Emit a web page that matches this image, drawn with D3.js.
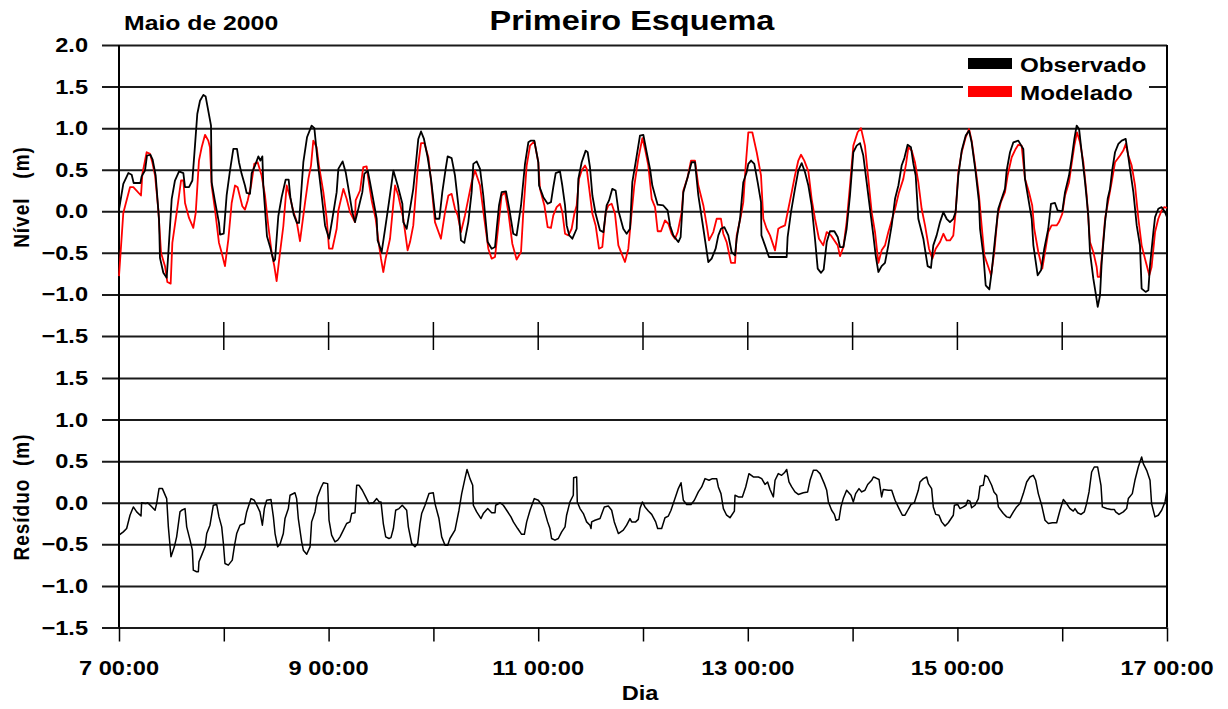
<!DOCTYPE html>
<html>
<head>
<meta charset="utf-8">
<script src="https://cdn.jsdelivr.net/npm/d3@7"></script>
<style>
  body { margin: 0; background: #fff; }
  text { font-family: "Liberation Sans", Arial, sans-serif; font-weight: bold; fill: #000; white-space: pre; }
</style>
</head>
<body>
<svg width="1228" height="709"></svg>
<script>
// ---------------------------------------------------------------
// data (day of May 2000, metres)
// ---------------------------------------------------------------
var observado = [
  [7.000,0.02],[7.041,0.33],[7.089,0.46],[7.121,0.44],[7.140,0.34],[7.204,0.34],[7.216,0.42],[7.248,0.49],
  [7.267,0.67],[7.299,0.68],[7.321,0.62],[7.350,0.43],[7.382,-0.10],[7.391,-0.56],[7.423,-0.74],[7.455,-0.80],
  [7.471,-0.50],[7.503,0.15],[7.534,0.37],[7.573,0.48],[7.614,0.46],[7.630,0.29],[7.668,0.29],[7.700,0.37],
  [7.725,0.79],[7.747,1.17],[7.773,1.33],[7.805,1.40],[7.827,1.38],[7.878,1.03],[7.884,0.35],[7.916,0.12],
  [7.954,-0.14],[7.964,-0.28],[7.999,-0.27],[8.027,0.19],[8.059,0.49],[8.091,0.75],[8.126,0.75],[8.145,0.59],
  [8.170,0.45],[8.202,0.31],[8.218,0.22],[8.250,0.21],[8.266,0.46],[8.298,0.55],[8.330,0.66],[8.349,0.61],
  [8.368,0.66],[8.377,0.31],[8.412,-0.30],[8.444,-0.44],[8.476,-0.60],[8.489,-0.58],[8.520,-0.06],[8.552,0.17],
  [8.590,0.38],[8.619,0.38],[8.635,0.17],[8.667,-0.04],[8.698,-0.14],[8.718,-0.14],[8.759,0.59],[8.794,0.89],
  [8.838,1.03],[8.864,1.00],[8.896,0.59],[8.934,0.19],[8.966,-0.17],[9.004,-0.33],[9.036,-0.09],[9.077,0.23],
  [9.093,0.51],[9.134,0.60],[9.163,0.47],[9.195,0.23],[9.226,-0.01],[9.252,-0.13],[9.284,0.03],[9.322,0.23],
  [9.341,0.45],[9.373,0.49],[9.395,0.35],[9.427,0.13],[9.459,-0.09],[9.468,-0.35],[9.506,-0.49],[9.544,-0.17],
  [9.576,0.11],[9.618,0.49],[9.659,0.31],[9.704,0.09],[9.713,-0.13],[9.745,-0.21],[9.777,0.03],[9.808,0.27],
  [9.831,0.55],[9.856,0.87],[9.882,0.96],[9.910,0.87],[9.945,0.65],[9.977,0.39],[10.021,-0.09],[10.057,-0.09],
  [10.085,0.23],[10.117,0.51],[10.136,0.66],[10.174,0.64],[10.206,0.43],[10.238,0.07],[10.263,-0.35],[10.295,-0.38],
  [10.333,-0.13],[10.365,0.23],[10.381,0.57],[10.413,0.60],[10.445,0.51],[10.476,0.19],[10.518,-0.37],[10.556,-0.45],
  [10.588,-0.43],[10.604,-0.21],[10.626,0.07],[10.651,0.23],[10.693,0.24],[10.724,0.03],[10.762,-0.27],[10.794,-0.29],
  [10.836,0.07],[10.874,0.57],[10.906,0.83],[10.931,0.85],[10.963,0.85],[11.001,0.59],[11.008,0.31],[11.049,0.17],
  [11.090,0.09],[11.122,0.11],[11.144,0.29],[11.167,0.46],[11.208,0.48],[11.230,0.31],[11.256,0.07],[11.272,-0.17],
  [11.297,-0.29],[11.326,-0.33],[11.367,-0.21],[11.383,0.39],[11.415,0.59],[11.453,0.73],[11.472,0.71],[11.494,0.53],
  [11.517,0.19],[11.548,-0.03],[11.590,-0.23],[11.622,-0.25],[11.653,0.07],[11.676,0.13],[11.707,0.27],[11.739,0.25],
  [11.765,0.01],[11.812,-0.21],[11.844,-0.27],[11.876,-0.21],[11.898,0.35],[11.930,0.59],[11.971,0.91],[12.003,0.92],
  [12.035,0.71],[12.067,0.51],[12.089,0.31],[12.115,0.19],[12.140,0.08],[12.194,0.07],[12.235,0.01],[12.258,-0.17],
  [12.289,-0.29],[12.337,-0.37],[12.359,-0.31],[12.385,0.23],[12.426,0.41],[12.464,0.59],[12.496,0.59],[12.528,0.19],
  [12.576,-0.21],[12.623,-0.61],[12.655,-0.57],[12.693,-0.45],[12.719,-0.29],[12.744,-0.21],[12.776,-0.19],[12.814,-0.29],
  [12.846,-0.49],[12.878,-0.53],[12.894,-0.33],[12.926,-0.09],[12.957,0.35],[12.989,0.47],[13.005,0.57],[13.031,0.61],
  [13.062,0.57],[13.094,0.35],[13.126,0.11],[13.130,-0.29],[13.164,-0.41],[13.202,-0.55],[13.291,-0.55],[13.371,-0.55],
  [13.380,-0.31],[13.412,-0.01],[13.450,0.27],[13.482,0.49],[13.514,0.58],[13.546,0.47],[13.578,0.31],[13.609,0.07],
  [13.641,-0.33],[13.667,-0.69],[13.699,-0.74],[13.724,-0.70],[13.753,-0.37],[13.784,-0.24],[13.826,-0.24],[13.858,-0.31],
  [13.880,-0.43],[13.912,-0.43],[13.943,-0.21],[13.975,0.19],[14.007,0.71],[14.039,0.79],[14.071,0.82],[14.102,0.67],
  [14.134,0.35],[14.166,0.03],[14.198,-0.29],[14.220,-0.53],[14.246,-0.73],[14.277,-0.66],[14.309,-0.62],[14.341,-0.41],
  [14.373,-0.17],[14.405,0.15],[14.437,0.31],[14.468,0.55],[14.494,0.64],[14.525,0.80],[14.557,0.77],[14.580,0.57],
  [14.602,0.43],[14.627,-0.09],[14.675,-0.33],[14.716,-0.66],[14.748,-0.68],[14.770,-0.41],[14.802,-0.29],[14.834,-0.13],
  [14.866,-0.01],[14.897,-0.09],[14.929,-0.13],[14.961,-0.09],[14.983,-0.01],[15.009,0.43],[15.041,0.73],[15.079,0.91],
  [15.111,0.97],[15.136,0.83],[15.174,0.47],[15.206,0.11],[15.216,-0.21],[15.248,-0.53],[15.270,-0.89],[15.305,-0.94],
  [15.327,-0.73],[15.359,-0.33],[15.390,0.03],[15.422,0.15],[15.454,0.27],[15.470,0.49],[15.502,0.71],[15.534,0.83],
  [15.581,0.85],[15.629,0.75],[15.645,0.39],[15.677,0.15],[15.709,-0.09],[15.725,-0.41],[15.766,-0.77],[15.798,-0.71],
  [15.829,-0.45],[15.867,-0.21],[15.893,0.09],[15.931,0.10],[15.956,0.01],[16.001,0.00],[16.027,0.23],[16.065,0.43],
  [16.090,0.63],[16.116,0.87],[16.138,1.03],[16.161,0.99],[16.186,0.71],[16.218,0.35],[16.249,-0.05],[16.265,-0.49],
  [16.297,-0.81],[16.320,-0.99],[16.339,-1.15],[16.361,-1.01],[16.377,-0.61],[16.409,-0.13],[16.434,0.15],[16.456,0.27],
  [16.479,0.51],[16.504,0.71],[16.536,0.81],[16.568,0.85],[16.606,0.87],[16.625,0.71],[16.647,0.51],[16.679,0.23],
  [16.711,-0.17],[16.742,-0.41],[16.758,-0.93],[16.796,-0.97],[16.822,-0.95],[16.838,-0.65],[16.870,-0.25],[16.886,-0.07],
  [16.917,0.03],[16.949,0.05],[16.981,-0.01],[17.000,-0.07]
];

var modelado = [
  [7.000,-0.78],[7.041,-0.02],[7.105,0.29],[7.137,0.29],[7.210,0.19],[7.223,0.45],[7.264,0.71],[7.296,0.69],
  [7.318,0.59],[7.344,0.43],[7.375,0.02],[7.401,-0.50],[7.439,-0.66],[7.461,-0.85],[7.493,-0.87],[7.509,-0.38],
  [7.550,-0.02],[7.592,0.37],[7.614,0.37],[7.630,0.10],[7.668,-0.08],[7.709,-0.20],[7.732,-0.02],[7.763,0.61],
  [7.789,0.77],[7.821,0.92],[7.852,0.85],[7.868,0.77],[7.884,0.31],[7.916,0.02],[7.954,-0.38],[7.980,-0.50],
  [8.011,-0.66],[8.043,-0.34],[8.075,0.10],[8.107,0.31],[8.132,0.29],[8.155,0.17],[8.177,0.06],[8.202,0.02],
  [8.228,0.13],[8.260,0.31],[8.291,0.57],[8.323,0.59],[8.361,0.43],[8.393,0.19],[8.425,-0.18],[8.457,-0.50],
  [8.482,-0.66],[8.504,-0.84],[8.536,-0.50],[8.568,-0.18],[8.600,0.31],[8.632,0.17],[8.663,0.00],[8.695,-0.12],
  [8.727,-0.36],[8.775,0.10],[8.807,0.39],[8.832,0.55],[8.854,0.85],[8.886,0.77],[8.908,0.55],[8.950,0.23],
  [8.982,-0.09],[9.004,-0.45],[9.036,-0.45],[9.077,-0.21],[9.093,0.01],[9.141,0.27],[9.172,0.15],[9.204,-0.01],
  [9.252,-0.13],[9.258,0.13],[9.300,0.25],[9.331,0.53],[9.363,0.54],[9.379,0.39],[9.411,0.13],[9.449,-0.09],
  [9.475,-0.35],[9.500,-0.57],[9.522,-0.73],[9.544,-0.57],[9.586,-0.33],[9.634,0.31],[9.665,0.19],[9.713,-0.09],
  [9.754,-0.47],[9.777,-0.37],[9.808,-0.17],[9.850,0.51],[9.882,0.82],[9.913,0.82],[9.952,0.65],[9.977,0.37],
  [10.015,-0.13],[10.072,-0.33],[10.111,-0.01],[10.143,0.19],[10.174,0.21],[10.206,0.03],[10.232,-0.05],[10.263,-0.25],
  [10.301,-0.05],[10.333,0.15],[10.365,0.35],[10.397,0.49],[10.445,0.31],[10.486,-0.09],[10.524,-0.45],[10.556,-0.57],
  [10.588,-0.55],[10.620,-0.17],[10.651,0.19],[10.683,0.23],[10.715,-0.01],[10.753,-0.39],[10.794,-0.58],[10.836,-0.49],
  [10.858,-0.01],[10.890,0.55],[10.922,0.79],[10.963,0.84],[11.001,0.59],[11.017,0.27],[11.059,0.07],[11.090,-0.19],
  [11.122,-0.20],[11.144,-0.05],[11.176,0.05],[11.208,0.09],[11.230,-0.01],[11.256,-0.27],[11.288,-0.29],[11.319,-0.21],
  [11.345,-0.03],[11.367,0.07],[11.389,0.39],[11.415,0.49],[11.447,0.55],[11.463,0.51],[11.485,0.29],[11.517,-0.03],
  [11.548,-0.17],[11.580,-0.45],[11.612,-0.43],[11.644,-0.01],[11.669,0.07],[11.701,0.09],[11.733,-0.03],[11.765,-0.41],
  [11.796,-0.51],[11.828,-0.61],[11.860,-0.45],[11.886,-0.09],[11.917,0.31],[11.955,0.63],[11.994,0.88],[12.019,0.75],
  [12.051,0.55],[12.083,0.15],[12.115,0.05],[12.140,-0.24],[12.172,-0.24],[12.210,-0.11],[12.242,-0.15],[12.273,-0.27],
  [12.305,-0.33],[12.331,-0.25],[12.369,-0.01],[12.385,0.25],[12.426,0.41],[12.458,0.61],[12.496,0.61],[12.528,0.31],
  [12.576,0.07],[12.608,-0.17],[12.630,-0.35],[12.671,-0.25],[12.703,-0.09],[12.744,-0.09],[12.766,-0.27],[12.798,-0.37],
  [12.840,-0.62],[12.878,-0.62],[12.894,-0.29],[12.935,-0.05],[12.957,0.11],[12.980,0.55],[13.005,0.95],[13.043,0.95],
  [13.085,0.71],[13.126,0.43],[13.148,-0.09],[13.180,-0.21],[13.212,-0.29],[13.260,-0.47],[13.291,-0.21],[13.317,-0.19],
  [13.355,-0.17],[13.387,0.03],[13.419,0.23],[13.450,0.43],[13.482,0.61],[13.508,0.68],[13.539,0.61],[13.578,0.48],
  [13.609,0.15],[13.641,-0.09],[13.679,-0.33],[13.720,-0.41],[13.753,-0.25],[13.794,-0.29],[13.826,-0.35],[13.858,-0.41],
  [13.880,-0.54],[13.912,-0.43],[13.943,-0.13],[13.975,0.31],[14.007,0.79],[14.048,0.95],[14.080,1.00],[14.118,0.79],
  [14.150,0.39],[14.182,-0.01],[14.214,-0.25],[14.246,-0.62],[14.277,-0.47],[14.309,-0.41],[14.341,-0.25],[14.373,-0.11],
  [14.405,0.03],[14.443,0.23],[14.484,0.39],[14.510,0.57],[14.532,0.77],[14.564,0.73],[14.595,0.59],[14.627,0.35],
  [14.659,0.03],[14.691,-0.17],[14.729,-0.45],[14.761,-0.57],[14.793,-0.45],[14.834,-0.37],[14.866,-0.27],[14.897,-0.35],
  [14.929,-0.35],[14.961,-0.29],[14.983,-0.01],[15.009,0.47],[15.041,0.71],[15.079,0.89],[15.111,0.99],[15.136,0.85],
  [15.174,0.51],[15.206,0.19],[15.231,-0.17],[15.257,-0.53],[15.295,-0.67],[15.321,-0.77],[15.352,-0.49],[15.384,-0.05],
  [15.415,0.11],[15.454,0.23],[15.479,0.43],[15.518,0.65],[15.556,0.75],[15.581,0.80],[15.613,0.79],[15.645,0.39],
  [15.683,0.23],[15.714,0.07],[15.733,-0.21],[15.772,-0.49],[15.810,-0.69],[15.836,-0.49],[15.867,-0.25],[15.899,-0.17],
  [15.947,-0.17],[15.969,-0.13],[16.001,-0.03],[16.027,0.19],[16.065,0.35],[16.090,0.57],[16.116,0.79],[16.141,0.95],
  [16.170,0.83],[16.202,0.59],[16.234,0.19],[16.265,-0.37],[16.297,-0.49],[16.329,-0.67],[16.339,-0.79],[16.361,-0.79],
  [16.377,-0.57],[16.409,-0.09],[16.440,0.13],[16.472,0.35],[16.504,0.59],[16.552,0.67],[16.583,0.73],[16.606,0.81],
  [16.631,0.67],[16.663,0.55],[16.695,0.31],[16.727,-0.09],[16.758,-0.41],[16.790,-0.57],[16.831,-0.77],[16.853,-0.67],
  [16.886,-0.25],[16.917,-0.09],[16.949,0.01],[16.974,0.05],[17.000,0.04]
];

var residuo = [
  [7.000,-0.39],[7.041,-0.35],[7.073,-0.31],[7.105,-0.15],[7.137,-0.05],[7.169,-0.11],[7.210,-0.16],[7.216,0.00],
  [7.254,-0.01],[7.274,0.00],[7.305,-0.04],[7.344,-0.09],[7.359,-0.01],[7.382,0.17],[7.414,0.17],[7.455,0.05],
  [7.471,-0.29],[7.496,-0.65],[7.528,-0.53],[7.550,-0.41],[7.582,-0.11],[7.598,-0.09],[7.630,-0.07],[7.646,-0.29],
  [7.678,-0.45],[7.700,-0.57],[7.709,-0.81],[7.741,-0.83],[7.757,-0.83],[7.763,-0.71],[7.789,-0.63],[7.821,-0.53],
  [7.837,-0.37],[7.868,-0.27],[7.900,-0.03],[7.932,-0.02],[7.954,-0.17],[7.980,-0.29],[7.996,-0.49],[8.011,-0.73],
  [8.043,-0.75],[8.081,-0.69],[8.100,-0.53],[8.123,-0.37],[8.155,-0.27],[8.196,-0.25],[8.218,-0.11],[8.260,0.05],
  [8.291,0.03],[8.323,-0.05],[8.345,-0.11],[8.368,-0.27],[8.387,-0.07],[8.409,0.03],[8.450,0.04],[8.473,-0.17],
  [8.489,-0.37],[8.514,-0.53],[8.536,-0.50],[8.568,-0.37],[8.584,-0.19],[8.616,-0.07],[8.632,0.09],[8.679,0.12],
  [8.695,0.05],[8.711,-0.19],[8.743,-0.47],[8.759,-0.57],[8.791,-0.62],[8.823,-0.53],[8.838,-0.23],[8.870,-0.11],
  [8.893,0.07],[8.927,0.18],[8.950,0.24],[8.991,0.23],[9.004,-0.21],[9.029,-0.39],[9.061,-0.47],[9.087,-0.45],
  [9.109,-0.41],[9.141,-0.33],[9.172,-0.25],[9.204,-0.23],[9.220,-0.13],[9.252,-0.12],[9.268,0.21],[9.290,0.21],
  [9.322,0.15],[9.354,0.07],[9.386,-0.01],[9.427,0.00],[9.459,0.05],[9.484,0.01],[9.500,0.01],[9.522,-0.25],
  [9.545,-0.41],[9.576,-0.43],[9.595,-0.42],[9.618,-0.31],[9.640,-0.09],[9.672,-0.07],[9.703,-0.03],[9.745,-0.09],
  [9.761,-0.29],[9.793,-0.49],[9.824,-0.53],[9.850,-0.49],[9.872,-0.25],[9.888,-0.13],[9.920,-0.03],[9.958,0.11],
  [9.999,0.12],[10.015,-0.01],[10.053,-0.19],[10.079,-0.41],[10.111,-0.51],[10.136,-0.51],[10.158,-0.43],[10.206,-0.33],
  [10.244,-0.09],[10.270,0.11],[10.301,0.29],[10.321,0.40],[10.349,0.29],[10.375,0.21],[10.381,-0.03],[10.413,-0.11],
  [10.454,-0.19],[10.476,-0.13],[10.518,-0.07],[10.556,-0.12],[10.588,-0.12],[10.594,-0.03],[10.636,0.00],[10.667,-0.03],
  [10.699,-0.09],[10.740,-0.17],[10.763,-0.23],[10.804,-0.31],[10.842,-0.38],[10.868,-0.38],[10.890,-0.23],[10.922,-0.09],
  [10.963,0.05],[11.001,0.03],[11.049,-0.05],[11.090,-0.23],[11.112,-0.31],[11.128,-0.43],[11.160,-0.45],[11.192,-0.43],
  [11.224,-0.35],[11.256,-0.29],[11.271,-0.15],[11.303,0.01],[11.335,0.09],[11.338,0.30],[11.367,0.31],[11.373,0.01],
  [11.399,-0.07],[11.431,-0.13],[11.462,-0.23],[11.494,-0.27],[11.504,-0.31],[11.510,-0.23],[11.542,-0.21],[11.590,-0.19],
  [11.631,-0.05],[11.669,-0.04],[11.701,-0.09],[11.726,-0.23],[11.765,-0.37],[11.812,-0.33],[11.844,-0.27],[11.876,-0.19],
  [11.892,-0.23],[11.930,-0.23],[11.955,-0.20],[11.971,-0.07],[11.994,0.01],[12.019,-0.05],[12.051,-0.10],[12.083,-0.14],
  [12.121,-0.23],[12.140,-0.31],[12.178,-0.31],[12.210,-0.18],[12.242,-0.16],[12.267,-0.09],[12.305,0.05],[12.337,0.17],
  [12.363,0.24],[12.385,0.03],[12.417,-0.02],[12.458,-0.02],[12.490,0.03],[12.528,0.13],[12.560,0.19],[12.592,0.29],
  [12.630,0.27],[12.662,0.29],[12.703,0.29],[12.719,0.19],[12.744,0.11],[12.767,-0.07],[12.798,-0.15],[12.830,-0.18],
  [12.872,-0.10],[12.878,0.09],[12.910,0.07],[12.948,0.07],[12.980,0.19],[13.011,0.35],[13.053,0.31],[13.101,0.31],
  [13.133,0.29],[13.164,0.22],[13.189,0.25],[13.212,0.16],[13.244,0.07],[13.260,0.27],[13.291,0.35],[13.323,0.33],
  [13.349,0.36],[13.371,0.40],[13.393,0.25],[13.419,0.19],[13.450,0.13],[13.482,0.10],[13.530,0.12],[13.571,0.13],
  [13.594,0.27],[13.626,0.39],[13.657,0.39],[13.689,0.35],[13.730,0.23],[13.753,0.15],[13.769,0.01],[13.800,-0.09],
  [13.826,-0.14],[13.842,-0.21],[13.870,-0.20],[13.889,-0.05],[13.911,0.05],[13.943,0.15],[13.985,0.09],[14.007,0.01],
  [14.029,0.11],[14.061,0.17],[14.087,0.13],[14.118,0.15],[14.144,0.22],[14.182,0.27],[14.198,0.31],[14.220,0.30],
  [14.252,0.28],[14.277,0.07],[14.293,0.16],[14.341,0.15],[14.373,0.15],[14.405,0.03],[14.443,-0.07],[14.475,-0.15],
  [14.500,-0.15],[14.526,-0.09],[14.557,-0.02],[14.589,0.00],[14.627,0.15],[14.643,0.25],[14.675,0.29],[14.707,0.31],
  [14.723,0.23],[14.754,0.17],[14.770,-0.05],[14.793,-0.14],[14.824,-0.15],[14.850,-0.23],[14.882,-0.28],[14.913,-0.24],
  [14.961,-0.15],[14.971,-0.03],[15.002,-0.02],[15.025,-0.07],[15.057,-0.05],[15.082,-0.03],[15.098,0.03],[15.120,0.02],
  [15.136,-0.06],[15.168,-0.03],[15.200,0.05],[15.216,0.20],[15.247,0.21],[15.263,0.33],[15.289,0.31],[15.327,0.21],
  [15.349,0.13],[15.375,0.09],[15.391,-0.05],[15.438,-0.13],[15.470,-0.17],[15.502,-0.18],[15.534,-0.11],[15.565,-0.05],
  [15.597,-0.01],[15.629,0.11],[15.661,0.25],[15.693,0.31],[15.724,0.33],[15.747,0.27],[15.772,0.11],[15.804,-0.03],
  [15.836,-0.21],[15.868,-0.25],[15.906,-0.24],[15.947,-0.24],[15.979,-0.09],[16.011,0.04],[16.042,-0.01],[16.074,-0.07],
  [16.106,-0.10],[16.122,-0.07],[16.148,-0.12],[16.179,-0.14],[16.211,-0.11],[16.233,-0.01],[16.256,0.13],[16.281,0.37],
  [16.306,0.43],[16.338,0.43],[16.370,0.21],[16.383,-0.05],[16.424,-0.07],[16.466,-0.08],[16.497,-0.08],[16.510,-0.11],
  [16.542,-0.14],[16.583,-0.11],[16.615,-0.07],[16.631,0.05],[16.669,0.11],[16.694,0.27],[16.726,0.43],[16.758,0.55],
  [16.774,0.47],[16.806,0.39],[16.838,0.27],[16.853,-0.01],[16.885,-0.17],[16.917,-0.15],[16.949,-0.09],[16.981,0.01],
  [17.000,0.15]
];

var topTicks = [2.0, 1.5, 1.0, 0.5, 0.0, -0.5, -1.0, -1.5];
var bottomTicks = [1.5, 1.0, 0.5, 0.0, -0.5, -1.0, -1.5];
var dayTicks = [7, 8, 9, 10, 11, 12, 13, 14, 15, 16, 17];
var dayLabels = [7, 9, 11, 13, 15, 17];
var seriesNames = ["Observado", "Modelado"];
var seriesColors = ["#000000", "#ff0000"];

// ---------------------------------------------------------------
// layout
// ---------------------------------------------------------------
var left = 119, right = 1167;
var topPanel = { top: 45, bottom: 336 };
var botPanel = { top: 378, bottom: 627.5 };
var stretch = 1.18; // text in the original is slightly wide

var svg = d3.select("svg");

var x = d3.scaleLinear().domain([7, 17]).range([left, right]);
var yTop = d3.scaleLinear().domain([-1.5, 2.0]).range([topPanel.bottom, topPanel.top]);
var yBot = d3.scaleLinear().domain([-1.5, 1.5]).range([botPanel.bottom, botPanel.top]);

function label(g, px, py, str, size, anchor, rot) {
  var t = "translate(" + px + "," + py + ")";
  if (rot) t += " rotate(-90) scale(1," + stretch + ")";
  else t += " scale(" + stretch + ",1)";
  return g.append("text")
    .attr("transform", t)
    .attr("text-anchor", anchor || "start")
    .style("font-size", size + "px")
    .text(str);
}

// gridlines + y labels (axis with long ticks)
function yAxisGrid(scale, ticks) {
  var g = svg.append("g")
    .attr("transform", "translate(" + left + ",0)")
    .call(d3.axisLeft(scale).tickValues(ticks).tickSize(-(right - left)).tickSizeOuter(0).tickFormat(""));
  g.select(".domain").remove();
  g.selectAll(".tick line")
    .attr("x1", -17)
    .attr("stroke", "#1a1a1a")
    .attr("stroke-width", 2);
  ticks.forEach(function (v) {
    label(svg, 88, scale(v) + 7, d3.format(".1f")(v), 20, "end");
  });
}
yAxisGrid(yTop, topTicks);
yAxisGrid(yBot, bottomTicks);

// frame sides
svg.append("line").attr("x1", left).attr("x2", left)
  .attr("y1", topPanel.top).attr("y2", botPanel.bottom)
  .attr("stroke", "#000").attr("stroke-width", 2);
svg.append("line").attr("x1", right).attr("x2", right)
  .attr("y1", topPanel.top).attr("y2", botPanel.bottom)
  .attr("stroke", "#000").attr("stroke-width", 2);

// x ticks: crossing ticks on the upper panel, outward on the lower one
svg.append("g").selectAll("line")
  .data(dayTicks.slice(1, -1))
  .join("line")
  .attr("x1", d => x(d)).attr("x2", d => x(d))
  .attr("y1", topPanel.bottom - 14).attr("y2", topPanel.bottom + 14)
  .attr("stroke", "#000").attr("stroke-width", 1.5);

svg.append("g")
  .attr("transform", "translate(0," + botPanel.bottom + ")")
  .call(d3.axisBottom(x).tickValues(dayTicks).tickSize(14).tickFormat(""))
  .call(g => g.select(".domain").remove())
  .selectAll(".tick line").attr("stroke", "#000").attr("stroke-width", 1.5);

dayLabels.forEach(function (d) {
  label(svg, x(d), 675, d + " 00:00", 20, "middle");
});

// series
var line = function (ys) {
  return d3.line().x(d => x(d[0])).y(d => ys(d[1]));
};

svg.append("path").datum(modelado)
  .attr("fill", "none").attr("stroke", seriesColors[1]).attr("stroke-width", 1.8)
  .attr("stroke-linejoin", "round")
  .attr("d", line(yTop));
svg.append("path").datum(observado)
  .attr("fill", "none").attr("stroke", seriesColors[0]).attr("stroke-width", 1.8)
  .attr("stroke-linejoin", "round")
  .attr("d", line(yTop));
svg.append("path").datum(residuo)
  .attr("fill", "none").attr("stroke", "#000").attr("stroke-width", 1.5)
  .attr("stroke-linejoin", "round")
  .attr("d", line(yBot));

// legend
var leg = svg.append("g");
leg.append("rect").attr("x", 963).attr("y", 51).attr("width", 186).attr("height", 54).attr("fill", "#fff");
seriesNames.forEach(function (name, i) {
  leg.append("rect")
    .attr("x", 968).attr("y", 58 + i * 28)
    .attr("width", 44).attr("height", 11)
    .attr("fill", seriesColors[i]);
  label(leg, 1020, 72 + i * 28, name, 20.5, "start");
});

// titles
label(svg, 632, 30, "Primeiro Esquema", 27.5, "middle");
label(svg, 124, 29.5, "Maio de 2000", 21, "start");
label(svg, 640, 700, "Dia", 20, "middle");
label(svg, 29, 197, "Nível   (m)", 19, "middle", true).style("letter-spacing", "1px");
label(svg, 29, 497, "Resíduo  (m)", 19, "middle", true).style("letter-spacing", "1px");
</script>
</body>
</html>
